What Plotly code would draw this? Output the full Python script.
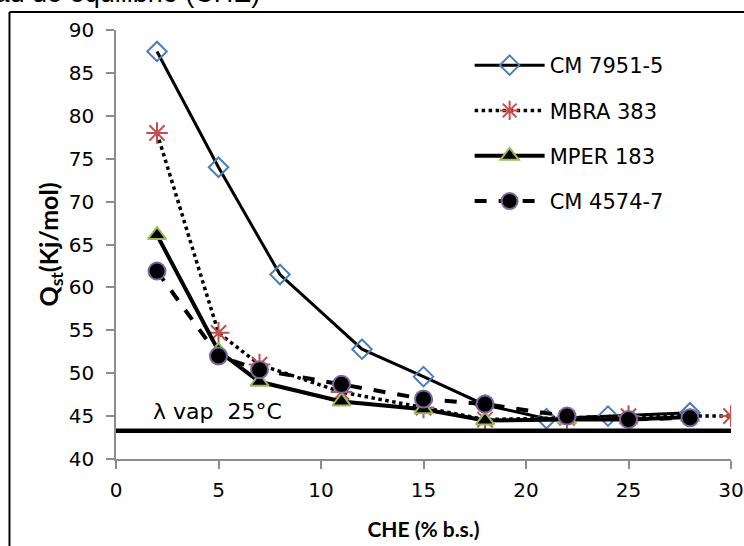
import plotly.graph_objects as go

# ---- data ----
x_cm7951 = [2, 5, 8, 12, 15, 18, 21, 24, 28]
y_cm7951 = [87.5, 74.0, 61.5, 52.8, 49.6, 46.3, 44.7, 45.0, 45.4]

x_mbra = [2, 5, 7, 11, 15, 18, 22, 25, 30]
y_mbra = [78.0, 54.7, 51.0, 47.8, 46.0, 44.6, 44.8, 45.0, 45.0]

x_mper = [2, 5, 7, 11, 15, 18, 22, 25, 28]
y_mper = [66.1, 52.6, 49.0, 46.7, 45.8, 44.5, 44.6, 44.6, 44.9]

x_cm4574 = [2, 5, 7, 11, 15, 18, 22, 25, 28]
y_cm4574 = [61.9, 52.0, 50.4, 48.7, 47.0, 46.4, 45.0, 44.6, 44.8]

lambda_x = [0, 30]
lambda_vap = 43.3
lambda_label = "λ vap  25°C"

x_ticks = [0, 5, 10, 15, 20, 25, 30]
y_ticks = [40, 45, 50, 55, 60, 65, 70, 75, 80, 85, 90]

FONT = "DejaVu Sans"

fig = go.Figure()

fig.add_trace(go.Scatter(
    x=x_cm7951, y=y_cm7951, mode="lines+markers", name="CM 7951-5",
    legendgroup="a",
    line=dict(color="black", width=3),
    marker=dict(symbol="diamond-open", size=15, color="#4a7ebb", line=dict(width=2, color="#4a7ebb")),
))
fig.add_trace(go.Scatter(
    x=x_mbra, y=y_mbra, mode="lines+markers", name="MBRA 383",
    legendgroup="b",
    line=dict(color="black", width=3.5, dash="dot"),
    marker=dict(symbol="asterisk-open", size=18, color="#c0504d", line=dict(width=2, color="#c0504d")),
))
fig.add_trace(go.Scatter(
    x=x_mper, y=y_mper, mode="lines+markers", name="MPER 183",
    legendgroup="c",
    line=dict(color="black", width=4),
    marker=dict(symbol="triangle-up", size=16, color="black", line=dict(width=2, color="#9bbb59")),
))
fig.add_trace(go.Scatter(
    x=x_cm4574, y=y_cm4574, mode="lines+markers", name="CM 4574-7",
    legendgroup="d",
    line=dict(color="black", width=4, dash="dash"),
    marker=dict(symbol="circle", size=17, color="black", line=dict(width=2, color="#8064a2")),
))
fig.add_trace(go.Scatter(
    x=lambda_x, y=[lambda_vap, lambda_vap], mode="lines", showlegend=False,
    line=dict(color="black", width=4.5), hoverinfo="skip",
))

fig.add_annotation(
    x=1.7, y=lambda_vap + 0.6, xref="x", yref="y",
    text=lambda_label, showarrow=False, xanchor="left", yanchor="bottom",
    font=dict(family=FONT, size=22, color="black"),
)

# cropped caption at the top of the picture
fig.add_annotation(
    x=0.237, y=1.0466, xref="paper", yref="paper",
    text="humedad de equilibrio (CHE)", showarrow=False,
    xanchor="right", yanchor="bottom",
    font=dict(family="Liberation Sans", size=27, color="black"),
)

# outer frame (partially visible)
fig.add_shape(type="line", xref="paper", yref="paper",
              x0=-0.1732, x1=-0.1732, y0=1.042, y1=-0.3,
              line=dict(color="black", width=2))
fig.add_shape(type="line", xref="paper", yref="paper",
              x0=-0.1732, x1=1.1, y0=1.042, y1=1.042,
              line=dict(color="black", width=2))

fig.update_layout(
    width=744, height=546,
    margin=dict(l=116, r=13, t=30, b=87),
    paper_bgcolor="white", plot_bgcolor="white",
    font=dict(family=FONT, size=20, color="black"),
    showlegend=True,
    legend=dict(
        x=0.575, y=0.965, xanchor="left", yanchor="top",
        bgcolor="rgba(0,0,0,0)", borderwidth=0,
        font=dict(family=FONT, size=21, color="black"),
        itemwidth=70, tracegroupgap=15, traceorder="grouped",
    ),
    xaxis=dict(
        range=[0, 30], tickvals=x_ticks, showgrid=False, zeroline=False,
        showline=True, linecolor="#8c8c8c", linewidth=1.5,
        ticks="outside", ticklen=8, tickcolor="#8c8c8c", tickwidth=1.5,
        ticklabelstandoff=4,
        tickfont=dict(family=FONT, size=20, color="black"),
        title=dict(text="<b>CHE (% b.s.)</b>", standoff=22,
                   font=dict(family="Lato", size=21, color="black")),
        automargin=False,
    ),
    yaxis=dict(
        range=[40, 90], tickvals=y_ticks, showgrid=False, zeroline=False,
        showline=True, linecolor="#8c8c8c", linewidth=1.5,
        ticks="outside", ticklen=8, tickcolor="#8c8c8c", tickwidth=1.5,
        ticklabelstandoff=8,
        tickfont=dict(family=FONT, size=20, color="black"),
        title=dict(text="<b>Q<sub>st</sub>(Kj/mol)</b>", standoff=3,
                   font=dict(family="Lato", size=25, color="black")),
        automargin=False,
    ),
)

fig.write_html(
    "out.html",
    config={"displayModeBar": False},
    post_script="document.body.style.margin='0px';document.body.style.overflow='hidden';",
)
